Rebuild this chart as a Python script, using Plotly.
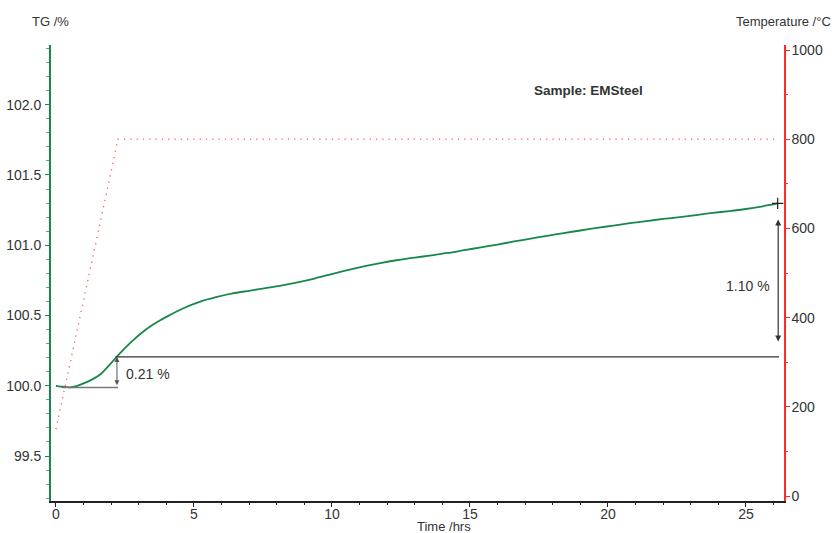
import plotly.graph_objects as go

# ---- data ----
time_hrs = [0, 0.25, 0.5, 0.75, 1.0, 1.3, 1.6, 1.9, 2.2, 2.5, 2.8, 3.1, 3.4, 3.7, 4.0,
            4.6, 5.2, 5.8, 6.4, 7.0, 7.6, 8.2, 8.8, 9.4, 10.0, 10.6, 11.2, 11.8, 12.4,
            13.0, 13.6, 14.2, 14.8, 15.4, 16.0, 16.6, 17.2, 17.8, 18.4, 19.0, 19.6,
            20.2, 20.8, 21.4, 22.0, 22.6, 23.2, 23.8, 24.4, 25.0, 25.5, 25.9, 26.15]
tg_pct = [100.0, 99.993, 99.989, 99.998, 100.017, 100.044, 100.08, 100.14, 100.206,
          100.268, 100.325, 100.376, 100.42, 100.457, 100.49, 100.55, 100.597, 100.63,
          100.657, 100.676, 100.695, 100.715, 100.738, 100.765, 100.795, 100.825,
          100.852, 100.875, 100.895, 100.912, 100.928, 100.945, 100.965, 100.985,
          101.005, 101.027, 101.047, 101.067, 101.087, 101.105, 101.123, 101.14,
          101.157, 101.172, 101.187, 101.2, 101.215, 101.23, 101.243, 101.258,
          101.273, 101.288, 101.298]
temp_time = [0.0, 2.25, 26.15]
temp_c = [150, 800, 800]

# mass-change evaluation markers
step1_label = "0.21 %"
step1_time = 2.21
step1_low = 99.988
step1_high = 100.205
step1_line_start = 0.22
step2_label = "1.10 %"
step2_time = 26.17
step2_arrow_low = 100.304
step2_arrow_high = 101.184
end_time = 26.2

GREEN = "#18884a"
RED = "#ff2a2a"
TXT = "#333333"
FONT = "Arial, Liberation Sans, sans-serif"

W, H = 833, 533
L, R, T, B = 51, 49, 45, 32
pw, ph = W - L - R, H - T - B


def px_to_paper(xp, yp):
    return (xp - L) / pw, 1 - (yp - T) / ph


fig = go.Figure()

fig.add_trace(go.Scatter(x=temp_time, y=temp_c, yaxis="y2", mode="lines",
                         line=dict(color="#ff5a5a", width=1.3, dash="1.3px,5px"),
                         hoverinfo="skip", showlegend=False))
fig.add_trace(go.Scatter(x=time_hrs, y=tg_pct, mode="lines",
                         line=dict(color=GREEN, width=1.8, shape="spline", smoothing=0.8),
                         showlegend=False))
fig.add_trace(go.Scatter(x=[time_hrs[-1]], y=[tg_pct[-1]], mode="markers",
                         marker=dict(symbol="cross-thin", size=8,
                                     line=dict(color="#222", width=1.2)),
                         showlegend=False))

# horizontal evaluation lines
fig.add_shape(type="line", xref="x", yref="y", x0=step1_line_start, x1=step1_time + 0.04,
              y0=step1_low, y1=step1_low, line=dict(color="#777777", width=1.5))
fig.add_shape(type="line", xref="x", yref="y", x0=step1_time - 0.05, x1=end_time,
              y0=step1_high, y1=step1_high, line=dict(color="#333333", width=1.2))

# double-headed arrows
fig.add_annotation(x=step1_time, y=step1_high, ax=step1_time, ay=step1_low + 0.005,
                   xref="x", yref="y", axref="x", ayref="y", text="", showarrow=True,
                   arrowhead=2, arrowside="end+start", arrowsize=1, arrowwidth=1,
                   arrowcolor="#555555")
fig.add_annotation(x=step2_time, y=step2_arrow_high, ax=step2_time, ay=step2_arrow_low,
                   xref="x", yref="y", axref="x", ayref="y", text="", showarrow=True,
                   arrowhead=2, arrowside="end+start", arrowsize=1, arrowwidth=1.2,
                   arrowcolor="#333333")

fig.add_annotation(x=2.46, y=100.083, xref="x", yref="y", text=step1_label,
                   showarrow=False, xanchor="left", yanchor="middle",
                   font=dict(family=FONT, size=14, color=TXT))
fig.add_annotation(x=25.94, y=100.71, xref="x", yref="y", text=step2_label,
                   showarrow=False, xanchor="right", yanchor="middle",
                   font=dict(family=FONT, size=14, color=TXT))

sx, sy = px_to_paper(588, 90)
fig.add_annotation(x=sx, y=sy, xref="paper", yref="paper", text="<b>Sample: EMSteel</b>",
                   showarrow=False, xanchor="center", yanchor="middle",
                   font=dict(family=FONT, size=13.5, color=TXT))

for txt, xp, yp in [("TG /%", 50.5, 21.7), ("Temperature /°C", 783, 21.7),
                    ("Time /hrs", 444, 526)]:
    xx, yy = px_to_paper(xp, yp)
    fig.add_annotation(x=xx, y=yy, xref="paper", yref="paper", text=txt, showarrow=False,
                       xanchor="center", yanchor="middle",
                       font=dict(family=FONT, size=13, color=TXT))

fig.update_layout(
    width=W, height=H, margin=dict(l=L, r=R, t=T, b=B, pad=0, autoexpand=False),
    plot_bgcolor="white", paper_bgcolor="white",
    font=dict(family=FONT, size=14, color=TXT),
    xaxis=dict(range=[-0.18, 26.38], tickvals=[0, 5, 10, 15, 20, 25], automargin=False,
               showgrid=False, zeroline=False, showline=True, linecolor="#222222",
               linewidth=1.5, ticks="outside", ticklen=4, tickcolor="#222222",
               tickfont=dict(size=14, color=TXT), ticklabelstandoff=-5,
               minor=dict(dtick=1, ticks="outside", ticklen=2, tickcolor="#222222")),
    yaxis=dict(range=[99.18, 102.425], tickvals=[99.5, 100.0, 100.5, 101.0, 101.5, 102.0],
               ticktext=["99.5", "100.0", "100.5", "101.0", "101.5", "102.0"],
               automargin=False,
               showgrid=False, zeroline=False, showline=True, linecolor=GREEN,
               linewidth=2, ticks="outside", ticklen=4, tickcolor=GREEN,
               tickfont=dict(size=14, color=TXT), ticklabelstandoff=1,
               minor=dict(dtick=0.1, tick0=99.2, ticks="outside", ticklen=3,
                          tickcolor="#5aa878")),
    yaxis2=dict(range=[-11.2, 1011.2], overlaying="y", side="right", automargin=False,
                tickvals=[0, 200, 400, 600, 800, 1000],
                showgrid=False, zeroline=False, showline=True, linecolor=RED,
                linewidth=1.5, ticks="outside", ticklen=4, tickcolor=RED,
                tickfont=dict(size=14, color=TXT), ticklabelstandoff=-1,
                minor=dict(dtick=100, ticks="outside", ticklen=2, tickcolor=RED)),
)

fig.write_html("out.html", config={"displayModeBar": False},
               post_script="document.body.style.margin='0';document.body.style.overflow='hidden';")
